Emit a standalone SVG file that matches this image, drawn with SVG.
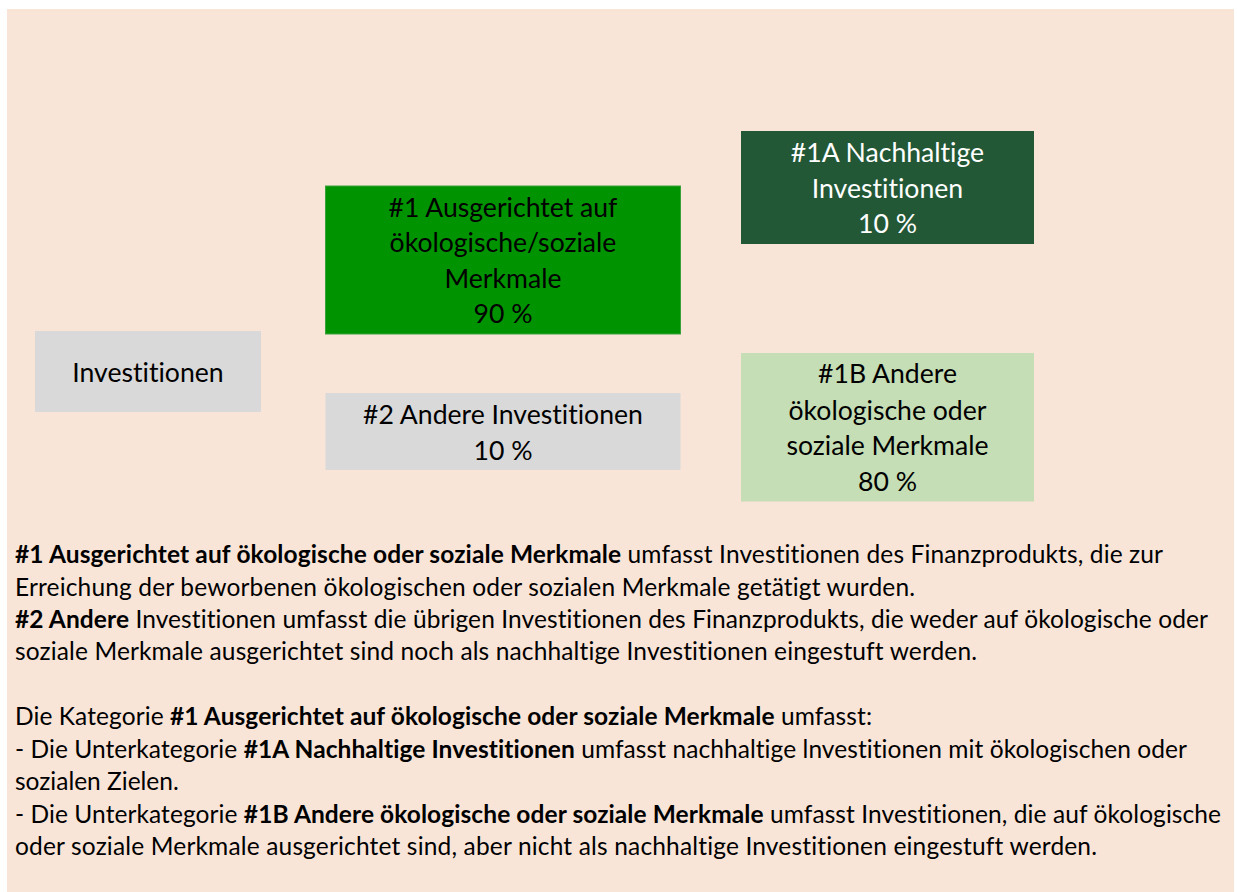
<svg xmlns="http://www.w3.org/2000/svg" width="1237" height="892" viewBox="0 0 1237 892">
<style>
text{font-variant-ligatures:none;font-feature-settings:"liga" 0,"clig" 0,"dlig" 0}
.lbl{font-family:Lato,"Open Sans","Liberation Sans",sans-serif;font-size:26.6px;fill:#000;text-anchor:middle}
.w{fill:#fff}
.body{font-family:Lato,"Open Sans","Liberation Sans",sans-serif;font-size:24.5px;fill:#000}
.b{font-weight:bold}
.gray{fill:#D9D9D9}
</style>
<rect x="0" y="0" width="1237" height="892" fill="#fff"/>
<rect x="7" y="9" width="1227" height="883" fill="#F8E5D8"/>
<g id="n-investitionen">
<rect class="gray" x="35" y="331" width="226" height="81"/>
<text class="lbl" x="148" y="382">Investitionen</text>
</g>
<g id="n-1">
<rect x="325.5" y="186" width="355" height="148" fill="#009300" stroke="#3AA23A" stroke-width="1"/>
<text class="lbl" x="503" y="217">#1 Ausgerichtet auf</text>
<text class="lbl" x="503" y="252">ökologische/soziale</text>
<text class="lbl" x="503" y="288">Merkmale</text>
<text class="lbl" x="503" y="323">90 %</text>
</g>
<g id="n-2">
<rect class="gray" x="325.5" y="393" width="355" height="77"/>
<text class="lbl" x="503" y="424">#2 Andere Investitionen</text>
<text class="lbl" x="503" y="460">10 %</text>
</g>
<g id="n-1a">
<rect x="741" y="131" width="293" height="113" fill="#235837"/>
<text class="lbl w" x="887.5" y="162">#1A Nachhaltige</text>
<text class="lbl w" x="887.5" y="198">Investitionen</text>
<text class="lbl w" x="887.5" y="233">10 %</text>
</g>
<g id="n-1b">
<rect x="741" y="353" width="293" height="148.5" fill="#C5DEB5"/>
<text class="lbl" x="887.5" y="383">#1B Andere</text>
<text class="lbl" x="887.5" y="420">ökologische oder</text>
<text class="lbl" x="887.5" y="455">soziale Merkmale</text>
<text class="lbl" x="887.5" y="491">80 %</text>
</g>
<g id="connectors"></g>
<g id="legend">
<text class="body" x="15" y="563" textLength="1148"><tspan class="b">#1 Ausgerichtet auf ökologische oder soziale Merkmale</tspan> umfasst Investitionen des Finanzprodukts, die zur</text>
<text class="body" x="15" y="595.5" textLength="900">Erreichung der beworbenen ökologischen oder sozialen Merkmale getätigt wurden.</text>
<text class="body" x="15" y="628" textLength="1193"><tspan class="b">#2 Andere</tspan> Investitionen umfasst die übrigen Investitionen des Finanzprodukts, die weder auf ökologische oder</text>
<text class="body" x="15" y="660" textLength="962">soziale Merkmale ausgerichtet sind noch als nachhaltige Investitionen eingestuft werden.</text>
<text class="body" x="15" y="725" textLength="857">Die Kategorie <tspan class="b">#1 Ausgerichtet auf ökologische oder soziale Merkmale</tspan> umfasst:</text>
<text class="body" x="15" y="757.5" textLength="1172">- Die Unterkategorie <tspan class="b">#1A Nachhaltige Investitionen</tspan> umfasst nachhaltige lnvestitionen mit ökologischen oder</text>
<text class="body" x="15" y="790">sozialen Zielen.</text>
<text class="body" x="15" y="822.5" textLength="1206">- Die Unterkategorie <tspan class="b">#1B Andere ökologische oder soziale Merkmale</tspan> umfasst Investitionen, die auf ökologische</text>
<text class="body" x="15" y="855" textLength="1082">oder soziale Merkmale ausgerichtet sind, aber nicht als nachhaltige Investitionen eingestuft werden.</text>
</g>
</svg>
